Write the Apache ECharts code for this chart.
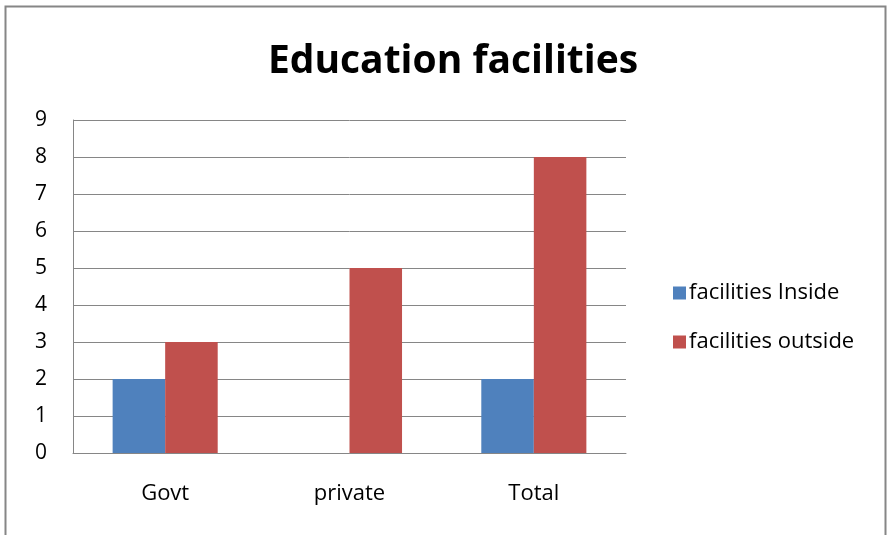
<!DOCTYPE html>
<html><head><meta charset="utf-8">
<script src="https://cdn.jsdelivr.net/npm/echarts@6/dist/echarts.min.js"></script>
<style>html,body{margin:0;padding:0;background:#fff}#c{width:890px;height:535px}</style>
</head><body><div id="c"></div>
<script>
const categories = ['Govt', 'private', 'Total'];
const inside = [2, 0, 2];
const outside = [3, 5, 8];
const yTicks = [0, 1, 2, 3, 4, 5, 6, 7, 8, 9];
const font = 'Open Sans';
const chart = echarts.init(document.getElementById('c'));
chart.setOption({
  animation: false,
  title: { text: 'Education facilities', left: 448, top: 37, textAlign: 'center',
    textStyle: { fontFamily: font, fontSize: 39, fontWeight: 'bold', color: '#000' } },
  graphic: [{ type: 'rect', shape: { x: 5.5, y: 6.5, width: 880, height: 560 },
    style: { fill: 'none', stroke: '#868686', lineWidth: 2 }, silent: true }],
  grid: { left: 73, top: 120, width: 553, height: 333 },
  legend: { orient: 'vertical', left: 668, top: 277, itemWidth: 13, itemHeight: 13, itemGap: 27,
    textStyle: { fontFamily: font, fontSize: 22, lineHeight: 20, color: '#000', padding: [0, 0, 0, -2] },
    data: ['facilities Inside', 'facilities outside'], icon: 'rect' },
  xAxis: { type: 'category', data: categories,
    axisLine: { lineStyle: { color: '#868686', width: 1 } }, axisTick: { show: false },
    axisLabel: { fontFamily: font, fontSize: 22, color: '#000', margin: 30 } },
  yAxis: { type: 'value', min: yTicks[0], max: yTicks[yTicks.length - 1], interval: 1,
    axisLine: { show: true, lineStyle: { color: '#868686' } }, axisTick: { show: false },
    splitLine: { lineStyle: { color: '#868686' } },
    axisLabel: { fontFamily: font, fontSize: 21, color: '#000', margin: 26 } },
  series: [
    { name: 'facilities Inside', type: 'bar', data: inside, barGap: '0%', barCategoryGap: '43%',
      itemStyle: { color: '#4F81BD' } },
    { name: 'facilities outside', type: 'bar', data: outside, barGap: '0%', barCategoryGap: '43%',
      itemStyle: { color: '#C0504D' } }
  ]
});
</script></body></html>
